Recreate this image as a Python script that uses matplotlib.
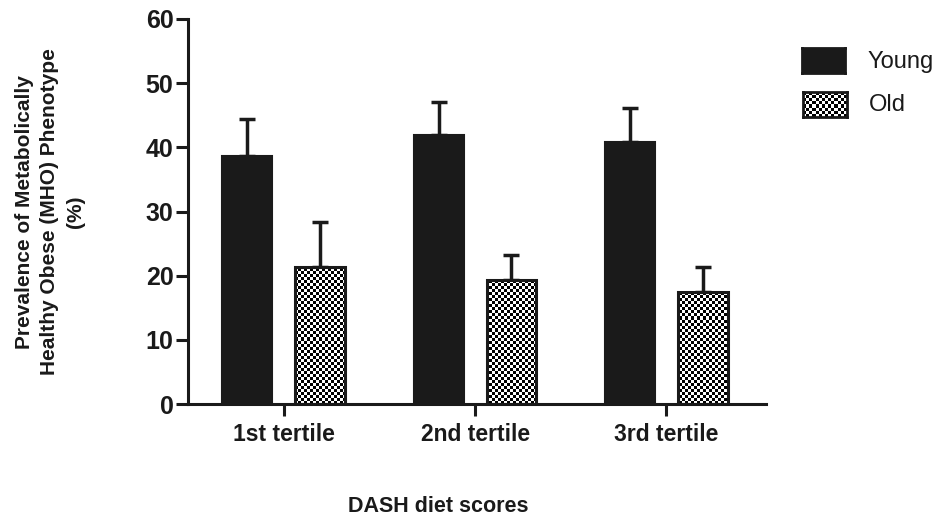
import matplotlib
matplotlib.use("Agg")
import matplotlib.pyplot as plt
import numpy as np
from matplotlib import font_manager

# data
groups = ["1st tertile", "2nd tertile", "3rd tertile"]
young = [38.7, 42.0, 40.8]
young_err = [5.7, 5.1, 5.4]
old = [21.4, 19.4, 17.4]
old_err = [6.9, 3.8, 4.0]
series_labels = ["Young", "Old"]

available = {f.name for f in font_manager.fontManager.ttflist}
FONT = "Liberation Sans" if "Liberation Sans" in available else "DejaVu Sans"
NARROW = "Liberation Sans Narrow" if "Liberation Sans Narrow" in available else FONT
plt.rcParams["font.family"] = FONT

DARK = "#1a1a1a"


def checkerboard(rows, cols):
    return (np.add.outer(np.arange(rows), np.arange(cols)) % 2).astype(float)


fig = plt.figure(figsize=(9.38, 5.27), dpi=100)
ax = fig.add_axes([188 / 938, 1 - 404 / 527, (766 - 188) / 938, (404 - 19) / 527])

x = np.arange(len(groups))
width = 0.26
offset = 0.19

young_bars = ax.bar(x - offset, young, width, color=DARK, edgecolor=DARK, linewidth=1.5, zorder=2)
old_bars = ax.bar(x + offset, old, width, facecolor="none", edgecolor=DARK, linewidth=2.2, zorder=3)

# checkered texture clipped to each "Old" bar
board = checkerboard(128, 193)
for bar in old_bars:
    im = ax.imshow(board, cmap="gray", extent=(-0.5, 2.5, 0, 60), aspect="auto",
                   interpolation="nearest", zorder=2.5, vmin=0, vmax=1)
    im.set_clip_path(bar)

ax.errorbar(x - offset, young, yerr=[np.zeros(3), young_err], fmt="none",
            ecolor=DARK, elinewidth=2.5, capsize=5.5, capthick=2.5, zorder=1)
ax.errorbar(x + offset, old, yerr=[np.zeros(3), old_err], fmt="none",
            ecolor=DARK, elinewidth=2.5, capsize=5.5, capthick=2.5, zorder=1)

ax.set_xlim(-0.5, 2.52)
ax.set_ylim(0, 60)
ax.set_yticks(np.arange(0, 61, 10))
ax.set_xticks(x)
ax.set_xticklabels(groups, fontsize=16.5, fontweight="bold")
for lbl in ax.get_yticklabels():
    lbl.set_fontsize(18)
    lbl.set_fontweight("bold")
ax.tick_params(axis="both", width=2.2, length=8.5, color=DARK, labelcolor=DARK)
ax.tick_params(axis="y", pad=2)
ax.tick_params(axis="x", pad=5)
for side in ("top", "right"):
    ax.spines[side].set_visible(False)
for side in ("left", "bottom"):
    ax.spines[side].set_linewidth(2.2)
    ax.spines[side].set_color(DARK)

fig.text(50 / 938, 1 - 212 / 527,
         "Prevalence of Metabolically\nHealthy Obese (MHO) Phenotype\n(%)",
         rotation=90, ha="center", va="center", multialignment="center",
         fontsize=15, fontweight="bold", color=DARK, linespacing=1.45)
fig.text(438 / 938, 1 - 507 / 527, "DASH diet scores", ha="center", va="center",
         fontsize=15.5, fontweight="bold", color=DARK, family=NARROW)

# legend swatches
sw_young = fig.add_axes([802 / 938, 1 - 73 / 527, 43 / 938, 25 / 527])
sw_young.set_facecolor(DARK)
sw_old = fig.add_axes([803 / 938, 1 - 117 / 527, 44 / 938, 25 / 527])
sw_old.imshow(checkerboard(8, 14), cmap="gray", aspect="auto", interpolation="nearest", vmin=0, vmax=1)
for sw in (sw_young, sw_old):
    sw.set_xticks([])
    sw.set_yticks([])
    for sp in sw.spines.values():
        sp.set_linewidth(2)
        sp.set_color(DARK)
fig.text(867 / 938, 1 - 62 / 527, series_labels[0], ha="left", va="center", fontsize=17, color=DARK)
fig.text(869 / 938, 1 - 105 / 527, series_labels[1], ha="left", va="center", fontsize=17, color=DARK)

fig.savefig("out.png", dpi=100)
